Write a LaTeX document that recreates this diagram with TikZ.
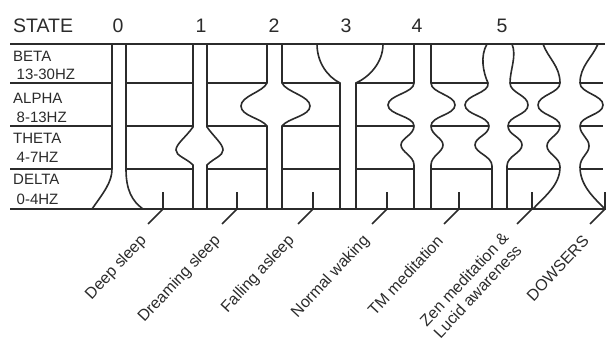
\documentclass[tikz,border=0pt]{standalone}
\usepackage{fontspec}
\setmainfont{Liberation Sans}
\definecolor{ink}{HTML}{2B2B2B}
\begin{document}
\begin{tikzpicture}[x=1pt,y=-1pt,
  ln/.style={line width=1.6pt, draw=ink},
  heavy/.style={line width=2.4pt, draw=ink},
  hdr/.style={font=\fontsize{19.5}{19.5}\selectfont, text=ink, inner sep=0pt, anchor=base},
  band/.style={font=\fontsize{15}{15}\selectfont, text=ink, inner sep=0pt, anchor=base west},
  lbl/.style={font=\fontsize{16}{18}\selectfont, text=ink, inner sep=0pt, rotate=47, anchor=east, align=right},
]
\fill[white] (0,0) rectangle (609,342);
\path[use as bounding box] (0,0) rectangle (609,342);

% header
\node[hdr, anchor=base west] (state) at (13,33) {STATE};
\node[hdr] (s0) at (118,33) {0};
\node[hdr] (s1) at (201,33) {1};
\node[hdr] (s2) at (274,33) {2};
\node[hdr] (s3) at (346,33) {3};
\node[hdr] (s4) at (417,33) {4};
\node[hdr] (s5) at (502,33) {5};

% band labels
\node[band] (beta) at (13,62) {BETA};
\node[band] (betahz) at (16.5,80) {13-30HZ};
\node[band] (alpha) at (13,103) {ALPHA};
\node[band] (alphahz) at (16.5,122) {8-13HZ};
\node[band] (theta) at (13,143) {THETA};
\node[band] (thetahz) at (16.5,162) {4-7HZ};
\node[band] (delta) at (13,184) {DELTA};
\node[band] (deltahz) at (16.5,204) {0-4HZ};

% interior horizontal lines
\draw[ln] (10,83)--(112,83) (126,83)--(193,83) (207,83)--(267,83) (282,83)--(340,83)
          (356,83)--(414,83) (431,83)--(488,83) (510,83)--(560,83) (580,83)--(603,83);
\draw[ln] (10,126)--(112,126) (126,126)--(193,126) (207,126)--(267,126) (282,126)--(340,126)
          (356,126)--(414,126) (431,126)--(489,126) (508,126)--(560,126) (580,126)--(603,126);
\draw[ln] (10,169)--(112,169) (126,169)--(193,169) (207,169)--(267,169) (282,169)--(340,169)
          (356,169)--(414,169) (431,169)--(492,169) (507,169)--(560,169) (580,169)--(603,169);

% column 0 : deep sleep
\draw[ln] (112,44) -- (112,169) .. controls (112,182) and (104,192) .. (92,209);
\draw[ln] (126,44) -- (126,169) .. controls (126,190) and (132,201) .. (143,209);

% column 1 : dreaming sleep
\draw[ln] (193,44) -- (193,127) .. controls (186,137) and (176,144) .. (176,150)
          .. controls (176,156) and (186,158) .. (193,165) -- (193,209);
\draw[ln] (207,44) -- (207,127) .. controls (214,137) and (223,144) .. (223,150)
          .. controls (223,156) and (214,158) .. (207,165) -- (207,209);

% column 2 : falling asleep
\draw[ln] (267,44) -- (267,83) .. controls (263,92) and (241,96) .. (241,106)
          .. controls (241,116) and (261,118) .. (267,126) -- (267,209);
\draw[ln] (282,44) -- (282,83) .. controls (286,92) and (310,96) .. (310,106)
          .. controls (310,116) and (288,118) .. (282,126) -- (282,209);

% column 3 : normal waking
\draw[ln] (317,44) .. controls (317,63) and (328,77) .. (340,83) -- (340,209);
\draw[ln] (383,44) .. controls (383,63) and (369,77) .. (356,83) -- (356,209);

% column 4 : TM meditation
\draw[ln] (414,44) -- (414,83) .. controls (414,93) and (388,95) .. (388,105)
          .. controls (388,115) and (414,116) .. (414,126)
          .. controls (414,135) and (401,138) .. (401,145)
          .. controls (401,152) and (414,156) .. (414,165) -- (414,209);
\draw[ln] (431,44) -- (431,83) .. controls (431,93) and (455,95) .. (455,105)
          .. controls (455,115) and (431,116) .. (431,126)
          .. controls (431,135) and (443,138) .. (443,145)
          .. controls (443,152) and (431,156) .. (431,165) -- (431,209);

% column 5 : zen meditation
\draw[ln] (487,44) .. controls (480,56) and (483,72) .. (488,83)
          .. controls (490,93) and (465,95) .. (465,105)
          .. controls (465,115) and (489,116) .. (489,126)
          .. controls (489,135) and (475,137) .. (475,145)
          .. controls (475,153) and (492,156) .. (492,166) -- (492,209);
\draw[ln] (512,44) .. controls (517,56) and (510,70) .. (510,83)
          .. controls (510,93) and (528,95) .. (528,105)
          .. controls (528,115) and (508,116) .. (508,126)
          .. controls (508,135) and (522,137) .. (522,145)
          .. controls (522,153) and (507,156) .. (507,166) -- (507,209);

% column 6 : dowsers
\draw[ln] (543,44) .. controls (548,58) and (560,66) .. (560,83)
          .. controls (560,93) and (538,95) .. (538,105)
          .. controls (538,115) and (560,116) .. (560,126)
          .. controls (560,135) and (547,138) .. (547,146)
          .. controls (547,154) and (560,157) .. (560,167)
          .. controls (560,185) and (545,196) .. (533,209);
\draw[ln] (598,44) .. controls (592,58) and (580,66) .. (580,83)
          .. controls (580,93) and (603,95) .. (603,105)
          .. controls (603,115) and (580,116) .. (580,126)
          .. controls (580,135) and (589,138) .. (589,146)
          .. controls (589,154) and (580,157) .. (580,167)
          .. controls (580,185) and (593,197) .. (605,209);

% top and bottom lines
\draw[heavy] (10,44) -- (605,44);
\draw[heavy] (10,209) -- (606,209);

% leaders and labels
\foreach \x/\n in {163/a,237/b,313/c,387/d,459/e,532/f,605/g}{
  \coordinate (t\n) at (\x,192);
  \coordinate (b\n) at (\x,209);
  \coordinate (e\n) at (\x-15,224);
  \draw[ln] (t\n) -- (b\n) -- (e\n);
}
\node[lbl] (la) at (144,238) {Deep sleep};
\node[lbl] (lb) at (218,238) {Dreaming sleep};
\node[lbl] (lc) at (292,238) {Falling asleep};
\node[lbl] (ld) at (367,238) {Normal waking};
\node[lbl] (le) at (440,238) {TM meditation};
\node[lbl] (lf) at (512,241) {Zen meditation \&\\Lucid awareness};
\node[lbl] (lg) at (586,238) {DOWSERS};
\end{tikzpicture}
\end{document}
